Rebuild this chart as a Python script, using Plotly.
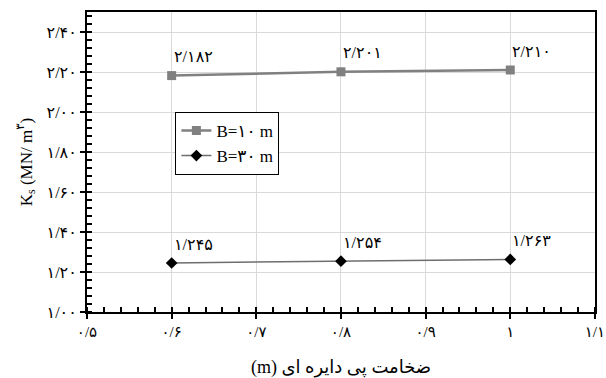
import plotly.graph_objects as go

x_vals = [0.6, 0.8, 1.0]
b10_vals = [2.182, 2.201, 2.210]
b30_vals = [1.245, 1.254, 1.263]
b10_labels = ["۲/۱۸۲", "۲/۲۰۱", "۲/۲۱۰"]
b30_labels = ["۱/۲۴۵", "۱/۲۵۴", "۱/۲۶۳"]
series_names = ["B=۱۰ m", "B=۳۰ m"]

x_ticks = [0.5, 0.6, 0.7, 0.8, 0.9, 1.0, 1.1]
x_ticklabels = ["۰/۵", "۰/۶", "۰/۷", "۰/۸", "۰/۹", "۱", "۱/۱"]
y_ticks = [1.0, 1.2, 1.4, 1.6, 1.8, 2.0, 2.2, 2.4]
y_ticklabels = ["۱/۰۰", "۱/۲۰", "۱/۴۰", "۱/۶۰", "۱/۸۰", "۲/۰۰", "۲/۲۰", "۲/۴۰"]

FONT = "Liberation Serif, DejaVu Sans, serif"

fig = go.Figure()
fig.add_trace(go.Scatter(
    x=x_vals, y=b10_vals, name=series_names[0], mode="lines+markers",
    line=dict(color="#808080", width=2.5),
    marker=dict(symbol="square", size=9, color="#808080"),
))
fig.add_trace(go.Scatter(
    x=x_vals, y=b30_vals, name=series_names[1], mode="lines+markers",
    line=dict(color="#6e6e6e", width=1.5),
    marker=dict(symbol="diamond", size=9, color="black"),
))

for xs, ys, labs in [(x_vals, b10_vals, b10_labels), (x_vals, b30_vals, b30_labels)]:
    for xv, yv, lab in zip(xs, ys, labs):
        fig.add_annotation(x=xv, y=yv, text=lab, showarrow=False,
                           xanchor="left", yanchor="middle", xshift=0, yshift=19,
                           font=dict(family=FONT, size=16, color="black"))

axis_common = dict(
    showline=True, linecolor="black", linewidth=2, mirror=True,
    showgrid=True, gridcolor="#d9d9d9", gridwidth=1,
    ticks="outside", ticklen=5, tickwidth=2, tickcolor="black",
    zeroline=False, ticklabeloverflow="allow", automargin=False,
)

fig.update_xaxes(range=[0.5, 1.1001], tickmode="array", tickvals=x_ticks, ticktext=x_ticklabels,
                 tickfont=dict(family=FONT, size=15, color="black"),
                 minor=dict(dtick=0.02, tick0=0.5, ticks="inside", ticklen=5, tickwidth=1.5,
                            tickcolor="black", showgrid=False),
                 title=dict(text="(m) ضخامت پی دایره ای", font=dict(family=FONT, size=18, color="black"),
                            standoff=22),
                 **axis_common)
fig.update_yaxes(range=[1.0, 2.5], tickmode="array", tickvals=y_ticks, ticktext=y_ticklabels,
                 tickfont=dict(family=FONT, size=16, color="black"),
                 minor=dict(dtick=0.04, tick0=1.0, ticks="inside", ticklen=5, tickwidth=1.5,
                            tickcolor="black", showgrid=False),
                 title=dict(text="K<sub>s</sub> (MN/ m<sup>۳</sup>)",
                            font=dict(family=FONT, size=17, color="black"), standoff=10),
                 **axis_common)

fig.update_layout(
    width=606, height=378,
    margin=dict(l=87, r=11, t=12, b=66),
    paper_bgcolor="white", plot_bgcolor="white",
    showlegend=True,
    legend=dict(x=0.174, y=0.667, xanchor="left", yanchor="top",
                bgcolor="white", bordercolor="black", borderwidth=1,
                font=dict(family=FONT, size=17, color="black"),
                itemwidth=30, tracegroupgap=0),
)

fig.write_html("out.html")
